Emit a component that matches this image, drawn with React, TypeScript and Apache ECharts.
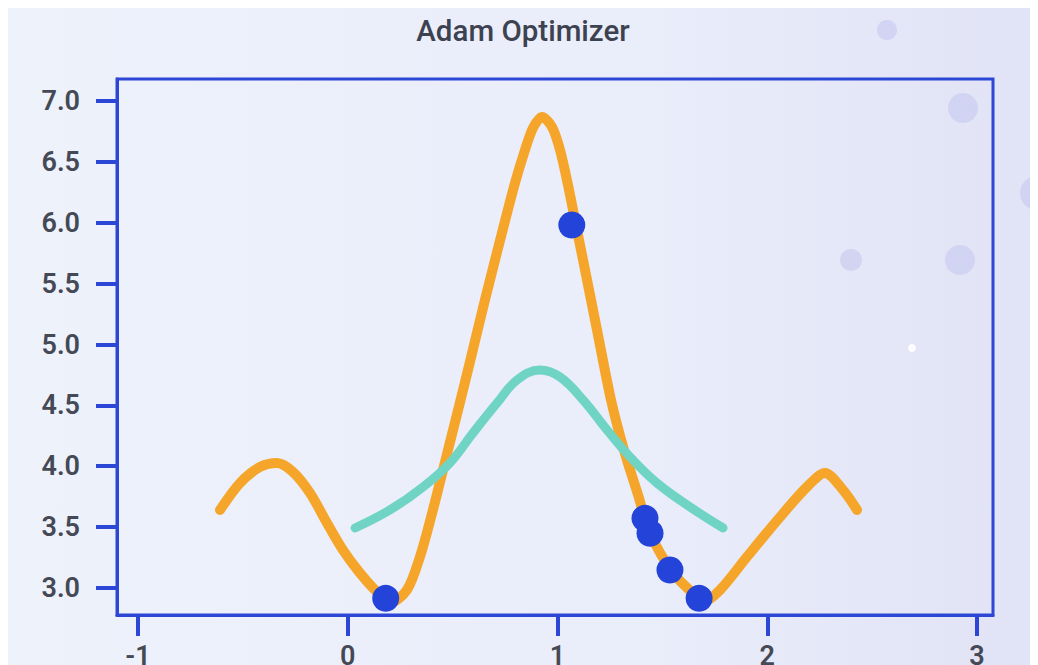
import React, { useEffect, useRef } from "react";
import * as echarts from "echarts";

const titleText = "Adam Optimizer";
const xTicks = [-1, 0, 1, 2, 3];
const yTicks = [3.0, 3.5, 4.0, 4.5, 5.0, 5.5, 6.0, 6.5, 7.0];

// loss surface (orange)
const lossX = [-0.609, -0.514, -0.418, -0.337, -0.261, -0.18, -0.099, -0.023, 0.058, 0.139, 0.201, 0.282, 0.344, 0.406, 0.473, 0.526, 0.583, 0.654, 0.735, 0.797, 0.845, 0.883, 0.926, 0.974, 1.012, 1.05, 1.088, 1.136, 1.193, 1.255, 1.317, 1.384, 1.441, 1.551, 1.665, 1.7, 1.775, 1.903, 2.061, 2.189, 2.275, 2.361, 2.428];
const lossY = [3.641, 3.862, 3.994, 4.027, 3.953, 3.78, 3.534, 3.312, 3.123, 2.967, 2.878, 2.984, 3.255, 3.641, 4.099, 4.462, 4.86, 5.366, 5.916, 6.326, 6.598, 6.778, 6.869, 6.786, 6.598, 6.31, 5.982, 5.571, 5.078, 4.544, 4.133, 3.764, 3.452, 3.123, 2.926, 2.89, 2.984, 3.255, 3.583, 3.83, 3.945, 3.805, 3.641];

// smoothed curve (teal)
const smoothX = [0.035, 0.201, 0.359, 0.487, 0.597, 0.712, 0.807, 0.917, 1.012, 1.122, 1.236, 1.346, 1.474, 1.632, 1.789];
const smoothY = [3.493, 3.641, 3.83, 4.027, 4.273, 4.52, 4.708, 4.791, 4.733, 4.544, 4.298, 4.076, 3.862, 3.665, 3.493];

// optimizer steps (blue dots)
const stepX = [0.181, 1.068, 1.417, 1.441, 1.536, 1.675];
const stepY = [2.915, 5.982, 3.572, 3.449, 3.148, 2.915];

const BLUE = "#2c46d6";
const TXT = "#444955";

export default function App() {
  const ref = useRef<HTMLDivElement>(null);
  useEffect(() => {
    const chart = echarts.init(ref.current!, null, { renderer: "svg" });
    const pairs = (xs: number[], ys: number[]) => xs.map((x, i) => [x, ys[i]]);
    chart.setOption({
      animation: false,
      backgroundColor: "transparent",
      title: {
        text: titleText,
        left: "center",
        top: 3,
        textStyle: { fontFamily: "Roboto", fontWeight: 500, fontSize: 29.5, color: "#3d4250" },
      },
      graphic: [
        { type: "circle", shape: { cx: 879, cy: 22, r: 10 }, style: { fill: "rgba(196,200,238,0.6)" }, silent: true },
        { type: "circle", shape: { cx: 955, cy: 100, r: 15 }, style: { fill: "rgba(196,200,238,0.6)" }, silent: true },
        { type: "circle", shape: { cx: 1029, cy: 185, r: 17 }, style: { fill: "rgba(196,200,238,0.6)" }, silent: true },
        { type: "circle", shape: { cx: 843, cy: 252, r: 11 }, style: { fill: "rgba(196,200,238,0.6)" }, silent: true },
        { type: "circle", shape: { cx: 952, cy: 252, r: 15 }, style: { fill: "rgba(196,200,238,0.6)" }, silent: true },
        { type: "circle", shape: { cx: 904, cy: 340, r: 4 }, style: { fill: "rgba(255,255,255,0.9)" }, silent: true },
      ],
      grid: {
        left: 109,
        right: 45,
        top: 71,
        bottom: 50,
        outerBoundsMode: "none",
        containLabel: false,
        show: true,
        borderColor: BLUE,
        borderWidth: 3,
        backgroundColor: "transparent",
      },
      xAxis: {
        type: "value",
        min: -1.1,
        max: 3.076,
        axisLine: { show: true, onZero: false, lineStyle: { color: BLUE, width: 3 } },
        axisTick: { show: true, length: 21, customValues: xTicks, lineStyle: { color: BLUE, width: 4 } },
        axisLabel: {
          customValues: xTicks,
          margin: 27,
          fontFamily: "Roboto",
          fontSize: 27,
          fontWeight: 600,
          color: TXT,
          formatter: (v: number) => String(v),
        },
        splitLine: { show: false },
      },
      yAxis: {
        type: "value",
        min: 2.778,
        max: 7.181,
        axisLine: { show: true, onZero: false, lineStyle: { color: BLUE, width: 3 } },
        axisTick: { show: true, length: 21, customValues: yTicks, lineStyle: { color: BLUE, width: 4 } },
        axisLabel: {
          customValues: yTicks,
          margin: 37,
          fontFamily: "Roboto",
          fontSize: 27,
          fontWeight: 600,
          color: TXT,
          formatter: (v: number) => v.toFixed(1),
        },
        splitLine: { show: false },
      },
      series: [
        {
          type: "line",
          data: pairs(lossX, lossY),
          smooth: 0.3,
          showSymbol: false,
          lineStyle: { color: "#f5a62a", width: 10, cap: "round", join: "round" },
          z: 2,
        },
        {
          type: "line",
          data: pairs(smoothX, smoothY),
          smooth: 0.4,
          showSymbol: false,
          lineStyle: { color: "#6fd4c4", width: 9, cap: "round", join: "round" },
          z: 3,
        },
        {
          type: "scatter",
          data: pairs(stepX, stepY),
          symbolSize: 27,
          itemStyle: { color: "#2443d9", opacity: 1 },
          z: 4,
        },
      ],
    });
    return () => chart.dispose();
  }, []);
  return (
    <div
      ref={ref}
      style={{
        width: 1030,
        height: 657,
        background: "linear-gradient(to right, #eef2fb 0%, #eaedfa 60%, #e1e3f6 100%)",
      }}
    />
  );
}
